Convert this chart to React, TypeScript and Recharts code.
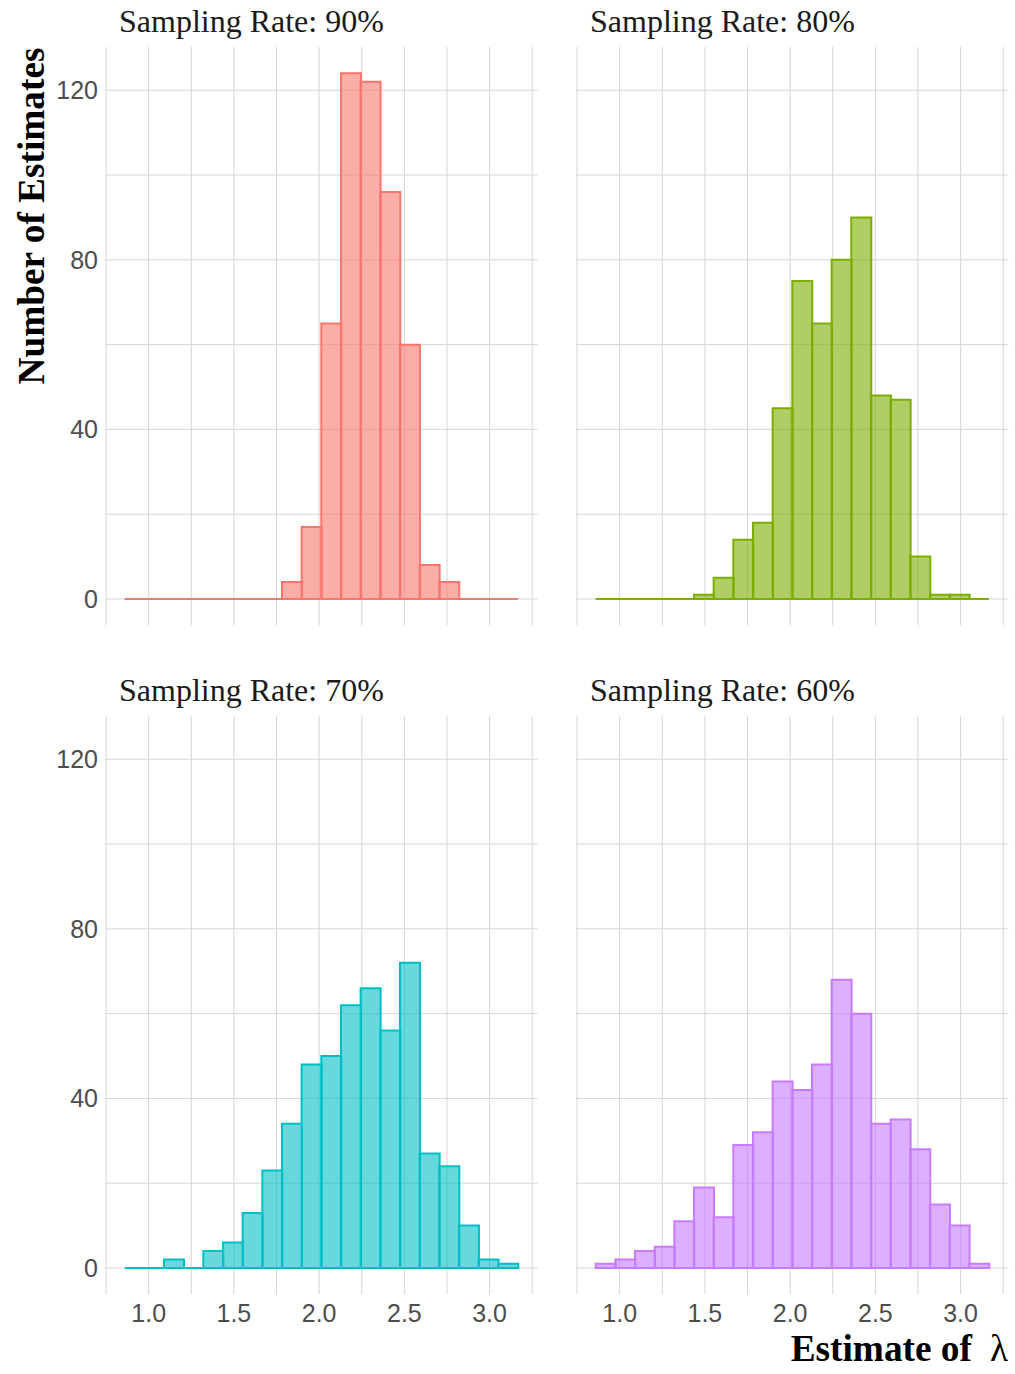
import React from 'react';
import { ComposedChart, Bar, XAxis, YAxis, CartesianGrid, ReferenceLine } from 'recharts';

// Histogram bins (20 bins of width ~0.11535 from 0.8592 to 3.1662)
const binCenters = [
  0.91688, 1.03223, 1.14758, 1.26293, 1.37828, 1.49363, 1.60898, 1.72433, 1.83968, 1.95503,
  2.07038, 2.18573, 2.30108, 2.41643, 2.53178, 2.64713, 2.76248, 2.87783, 2.99318, 3.10853,
];
const binStart = 0.8592;
const binEnd = 3.1662;

const counts90 = [0, 0, 0, 0, 0, 0, 0, 0, 4, 17, 65, 124, 122, 96, 60, 8, 4, 0, 0, 0];
const counts80 = [0, 0, 0, 0, 0, 1, 5, 14, 18, 45, 75, 65, 80, 90, 48, 47, 10, 1, 1, 0];
const counts70 = [0, 0, 2, 0, 4, 6, 13, 23, 34, 48, 50, 62, 66, 56, 72, 27, 24, 10, 2, 1];
const counts60 = [1, 2, 4, 5, 11, 19, 12, 29, 32, 44, 42, 48, 68, 60, 34, 35, 28, 15, 10, 1];

const panelTitles = ['Sampling Rate: 90%', 'Sampling Rate: 80%', 'Sampling Rate: 70%', 'Sampling Rate: 60%'];
const panelColors = ['#F8766D', '#7CAE00', '#00BFC4', '#C77CFF'];

const xTicks = [0.75, 1.0, 1.25, 1.5, 1.75, 2.0, 2.25, 2.5, 2.75, 3.0, 3.25];
const xLabelTicks = [1.0, 1.5, 2.0, 2.5, 3.0];
const yTicks = [0, 20, 40, 60, 80, 100, 120];
const yLabelTicks = [0, 40, 80, 120];
const xDomain: [number, number] = [0.74385, 3.28155];
const yDomain: [number, number] = [-6.2, 130.2];

const yTitle = 'Number of Estimates';
const xTitle = 'Estimate of';
const xTitleSymbol = 'λ';

const PW = 432.6;
const PH = 578.3;
const GRID = '#d6d6d6';
const TICK_STYLE = { fontFamily: '"Liberation Sans", Arial, sans-serif', fontSize: 25, fill: '#4d4d4d' };

type PanelProps = {
  left: number;
  top: number;
  counts: number[];
  color: string;
  showY: boolean;
  showX: boolean;
};

function Panel({ left, top, counts, color, showY, showX }: PanelProps) {
  const yw = showY ? 70 : 1;
  const xh = showX ? 45 : 1;
  const data = binCenters.map((x, i) => ({ x, n: counts[i] }));
  return (
    <div style={{ position: 'absolute', left: left - yw, top, width: PW + yw, height: PH + xh }}>
      <ComposedChart
        width={PW + yw}
        height={PH + xh}
        data={data}
        margin={{ top: 0, right: 0, bottom: 0, left: 0 }}
        barCategoryGap={0}
        barGap={0}
      >
        <CartesianGrid stroke={GRID} strokeWidth={1} syncWithTicks />
        <XAxis
          dataKey="x"
          type="number"
          domain={xDomain}
          ticks={xTicks}
          allowDataOverflow
          axisLine={false}
          tickLine={false}
          tickSize={0}
          tickMargin={10}
          height={xh}
          interval={0}
          tick={TICK_STYLE}
          tickFormatter={(v: number) => (showX && xLabelTicks.includes(v) ? v.toFixed(1) : '')}
        />
        <YAxis
          type="number"
          domain={yDomain}
          ticks={yTicks}
          allowDataOverflow
          axisLine={false}
          tickLine={false}
          tickSize={0}
          tickMargin={7}
          width={yw}
          interval={0}
          tick={TICK_STYLE}
          tickFormatter={(v: number) => (showY && yLabelTicks.includes(v) ? String(v) : '')}
        />
        <ReferenceLine
          segment={[{ x: binStart, y: 0 }, { x: binEnd, y: 0 }]}
          stroke={color}
          strokeWidth={2}
        />
        <Bar
          dataKey="n"
          fill={color}
          fillOpacity={0.6}
          stroke={color}
          strokeWidth={2}
          isAnimationActive={false}
        />
      </ComposedChart>
    </div>
  );
}

export default function App() {
  const lefts = [105.4, 576.4];
  const tops = [47, 716];
  const countsList = [counts90, counts80, counts70, counts60];
  return (
    <div style={{ position: 'absolute', left: 0, top: 0, width: 1015, height: 1374, background: '#fff', overflow: 'hidden' }}>
      {countsList.map((c, i) => (
        <Panel
          key={i}
          left={lefts[i % 2]}
          top={tops[Math.floor(i / 2)]}
          counts={c}
          color={panelColors[i]}
          showY={i % 2 === 0}
          showX={i >= 2}
        />
      ))}
      <svg width={1015} height={1374} style={{ position: 'absolute', left: 0, top: 0, pointerEvents: 'none' }}>
        {panelTitles.map((t, i) => (
          <text
            key={t}
            x={lefts[i % 2] + 13.6}
            y={tops[Math.floor(i / 2)] - 15}
            fontFamily='"Liberation Serif", "Times New Roman", serif'
            fontSize={32}
            fill="#1a1a1a"
          >
            {t}
          </text>
        ))}
        <text
          transform="translate(44,216) rotate(-90)"
          textAnchor="middle"
          fontFamily='"Liberation Serif", "Times New Roman", serif'
          fontWeight="bold"
          fontSize={37.3}
          fill="#000"
        >
          {yTitle}
        </text>
        <text
          x={1008}
          y={1361}
          textAnchor="end"
          fontFamily='"Liberation Serif", "Times New Roman", serif'
          fontWeight="bold"
          fontSize={37.3}
          fill="#000"
        >
          {xTitle}
          <tspan dx={18} fontWeight="normal">{xTitleSymbol}</tspan>
        </text>
      </svg>
    </div>
  );
}
